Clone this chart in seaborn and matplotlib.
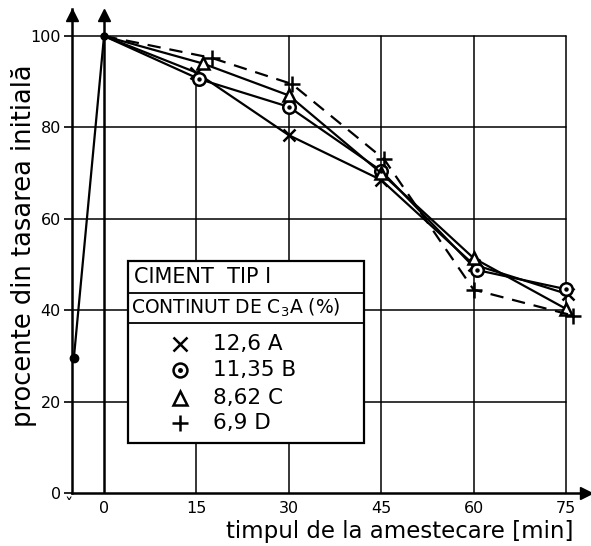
import numpy as np
import pandas as pd
import matplotlib
matplotlib.use("Agg")
import matplotlib.pyplot as plt
import seaborn as sns

sns.set_style("white")
plt.rcParams['font.family'] = ['DejaVu Sans']
plt.rcParams['text.color'] = 'black'
plt.rcParams['xtick.color'] = 'black'
plt.rcParams['ytick.color'] = 'black'
plt.rcParams['axes.labelcolor'] = 'black'

# ---- data ----
init_x = [-4.9, 0]
init_y = [29.5, 100]

a_x = [0, 15, 30, 45, 60, 75.3]
a_y = [100, 92, 78.3, 68.5, 50, 43.5]

b_x = [0, 15.4, 30, 45, 60.5, 75]
b_y = [100, 90.6, 84.5, 70.5, 48.8, 44.6]

c_x = [0, 16, 30, 45, 60, 75]
c_y = [100, 94, 87, 70, 51.4, 40.3]

d_x = [0, 17.5, 30.5, 45.5, 60, 76.2]
d_y = [100, 95.2, 89.5, 73, 44.5, 38.8]

x_ticks = [0, 15, 30, 45, 60, 75]
y_ticks = [0, 20, 40, 60, 80, 100]

legend_rows = [("12,6 A", "x"), ("11,35 B", "o"), ("8,62 C", "^"), ("6,9 D", "+")]

fig = plt.figure(figsize=(5.91, 5.46), dpi=100)
ax = fig.add_axes([72/591, 53/546, 518/591, 484.4/546])
XMIN, XMAX = -5.2, 78.9
YMIN, YMAX = 0, 106
ax.set_xlim(XMIN, XMAX)
ax.set_ylim(YMIN, YMAX)

K = 'black'
# grid
for yv in y_ticks[1:]:
    ax.plot([XMIN, 75], [yv, yv], color=K, lw=1.1, zorder=1)
ax.plot([15, 15], [0, 89], color=K, lw=1.1, zorder=1)
for xv in [30, 45, 60, 75]:
    ax.plot([xv, xv], [0, 100], color=K, lw=1.1, zorder=1)
# x=0 axis with arrow
ax.plot([0, 0], [0, 104.5], color=K, lw=1.8, zorder=2)
ax.plot([0], [104.5], marker='^', color=K, ms=9, clip_on=False, zorder=5)

# spines / arrows
for s in ['top', 'right']:
    ax.spines[s].set_visible(False)
for s in ['left', 'bottom']:
    ax.spines[s].set_linewidth(1.8)
    ax.spines[s].set_color(K)
ax.plot([XMIN], [104.5], marker='^', color=K, ms=9, clip_on=False, zorder=5)
ax.plot([XMAX - 0.6], [0], marker='>', color=K, ms=9, clip_on=False, zorder=5)

# data
lw = 1.6
me = list(range(1, 6))
sns.lineplot(x=init_x, y=init_y, ax=ax, color=K, lw=lw, zorder=3)
ax.plot(init_x[:1], init_y[:1], 'o', color=K, ms=6, zorder=4, clip_on=False)
ax.plot([0], [100], 'o', color=K, ms=5, zorder=4)
sns.lineplot(x=a_x, y=a_y, ax=ax, color=K, lw=lw, marker='x', markersize=8,
             markeredgecolor=K, markeredgewidth=1.8, markevery=me,
             zorder=3, sort=False)
sns.lineplot(x=b_x, y=b_y, ax=ax, color=K, lw=lw, marker='o', markersize=9,
             markerfacecolor='white', markeredgecolor=K, markeredgewidth=1.8,
             markevery=me, zorder=3, sort=False)
ax.plot(b_x[1:], b_y[1:], 'o', color=K, ms=2.2, zorder=4)
sns.lineplot(x=c_x, y=c_y, ax=ax, color=K, lw=lw, marker='^', markersize=9,
             markerfacecolor='white', markeredgecolor=K, markeredgewidth=1.8,
             markevery=me, zorder=3, sort=False)
sns.lineplot(x=d_x, y=d_y, ax=ax, color=K, lw=lw, marker='+', markersize=11,
             markeredgecolor=K, markeredgewidth=1.8, markevery=me,
             zorder=3, sort=False)
ax.lines[-1].set_dashes([6, 4])

# ticks
ax.set_xticks(x_ticks)
ax.set_xticklabels([str(v) for v in x_ticks], fontsize=11.5)
ax.set_yticks(y_ticks)
ax.set_yticklabels([str(v) for v in y_ticks], fontsize=11.5)
ax.tick_params(axis='x', length=0, pad=6)
ax.tick_params(axis='y', length=6, width=1.2, direction='out', pad=2, left=True)
ax.text(-5.7, -2.8, "ˇ", fontsize=12, ha='center', va='center')

ax.set_xlabel("timpul de la amestecare [min]", fontsize=16.5)
ax.xaxis.set_label_coords(0.633, -0.055)
ax.set_ylabel("procente din tasarea initială", fontsize=18.5)
ax.yaxis.set_label_coords(-0.068, 0.51)

# legend box (axes coordinates)
T = ax.transAxes
bx0, bx1, by0, by1 = 0.108, 0.564, 0.103, 0.479
ax.add_patch(plt.Rectangle((bx0, by0), bx1 - bx0, by1 - by0, transform=T,
                           facecolor='white', edgecolor=K, lw=1.6, zorder=6))
for yy in [0.413, 0.351]:
    ax.plot([bx0, bx1], [yy, yy], color=K, lw=1.3, transform=T, zorder=7)
ax.text(bx0 + 0.012, 0.446, "CIMENT  TIP I", fontsize=15, transform=T,
        ha='left', va='center', zorder=8)
ax.text(bx0 + 0.006, 0.382, "CONTINUT DE C$_3$A (%)", fontsize=13.5, transform=T,
        ha='left', va='center', zorder=8)
row_y = [0.308, 0.254, 0.196, 0.145]
for (lab, m), yy in zip(legend_rows, row_y):
    mfc = 'white' if m in ('o', '^') else K
    ax.plot([0.208], [yy], marker=m, ms=10 if m != '+' else 12, color=K,
            markerfacecolor=mfc, markeredgecolor=K, markeredgewidth=1.8,
            transform=T, zorder=8, linestyle='none')
    if m == 'o':
        ax.plot([0.208], [yy], 'o', ms=2.5, color=K, transform=T, zorder=9)
    ax.text(0.272, yy, lab, fontsize=15.5, transform=T, ha='left', va='center',
            zorder=8)

fig.savefig("out.png", dpi=100)
